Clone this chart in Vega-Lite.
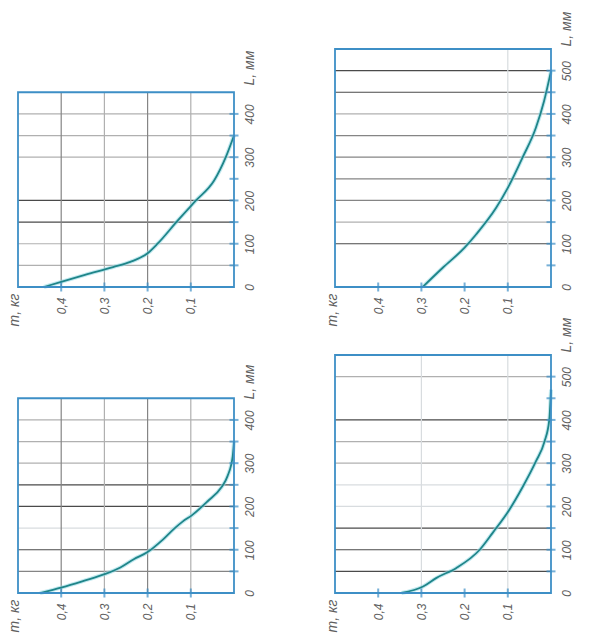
{
  "$schema": "https://vega.github.io/schema/vega-lite/v6.json",
  "background": "white",
  "padding": {"left": 7, "top": 11, "right": 4, "bottom": 4},
  "config": {
    "view": {"stroke": null},
    "font": "Liberation Sans",
    "axis": {
      "labelFont": "Liberation Sans",
      "labelFontStyle": "italic",
      "labelFontSize": 12,
      "labelColor": "#5e5e5e",
      "titleFont": "Liberation Sans",
      "titleFontStyle": "italic",
      "titleFontWeight": "normal",
      "titleFontSize": 14,
      "titleColor": "#5e5e5e",
      "domain": false,
      "grid": false,
      "ticks": false,
      "labelPadding": 10,
      "labelFlush": false,
      "labelOverlap": false,
      "labelBound": false
    },
    "tick": {"color": "#3d8fc6", "thickness": 2, "size": 9}
  },
  "datasets": {
    "curves": [
      {"panel": "a", "L": 0, "m": 0.44},
      {"panel": "a", "L": 12, "m": 0.40},
      {"panel": "a", "L": 28, "m": 0.345},
      {"panel": "a", "L": 46, "m": 0.28},
      {"panel": "a", "L": 58, "m": 0.24},
      {"panel": "a", "L": 78, "m": 0.20},
      {"panel": "a", "L": 100, "m": 0.177},
      {"panel": "a", "L": 154, "m": 0.13},
      {"panel": "a", "L": 200, "m": 0.088},
      {"panel": "a", "L": 246, "m": 0.046},
      {"panel": "a", "L": 300, "m": 0.019},
      {"panel": "a", "L": 350, "m": 0.0},
      {"panel": "b", "L": 0, "m": 0.297},
      {"panel": "b", "L": 45, "m": 0.25},
      {"panel": "b", "L": 91, "m": 0.2},
      {"panel": "b", "L": 122, "m": 0.173},
      {"panel": "b", "L": 183, "m": 0.127},
      {"panel": "b", "L": 229, "m": 0.1},
      {"panel": "b", "L": 299, "m": 0.066},
      {"panel": "b", "L": 368, "m": 0.035},
      {"panel": "b", "L": 430, "m": 0.016},
      {"panel": "b", "L": 499, "m": 0.0},
      {"panel": "c", "L": 0, "m": 0.449},
      {"panel": "c", "L": 13, "m": 0.398},
      {"panel": "c", "L": 28, "m": 0.348},
      {"panel": "c", "L": 44, "m": 0.298},
      {"panel": "c", "L": 59, "m": 0.263},
      {"panel": "c", "L": 78, "m": 0.232},
      {"panel": "c", "L": 94, "m": 0.201},
      {"panel": "c", "L": 124, "m": 0.164},
      {"panel": "c", "L": 150, "m": 0.137},
      {"panel": "c", "L": 165, "m": 0.119},
      {"panel": "c", "L": 180, "m": 0.097},
      {"panel": "c", "L": 212, "m": 0.061},
      {"panel": "c", "L": 243, "m": 0.03},
      {"panel": "c", "L": 270, "m": 0.015},
      {"panel": "c", "L": 316, "m": 0.003},
      {"panel": "c", "L": 350, "m": 0.0},
      {"panel": "d", "L": 0, "m": 0.346},
      {"panel": "d", "L": 15, "m": 0.296},
      {"panel": "d", "L": 35, "m": 0.265},
      {"panel": "d", "L": 58, "m": 0.219},
      {"panel": "d", "L": 100, "m": 0.165},
      {"panel": "d", "L": 139, "m": 0.135},
      {"panel": "d", "L": 193, "m": 0.096},
      {"panel": "d", "L": 246, "m": 0.065},
      {"panel": "d", "L": 304, "m": 0.035},
      {"panel": "d", "L": 350, "m": 0.015},
      {"panel": "d", "L": 400, "m": 0.004},
      {"panel": "d", "L": 470, "m": 0.0}
    ],
    "hgrid": [
      {"panel": "a", "L": 50, "tone": "light"},
      {"panel": "a", "L": 100, "tone": "light"},
      {"panel": "a", "L": 150, "tone": "dark"},
      {"panel": "a", "L": 200, "tone": "dark"},
      {"panel": "a", "L": 300, "tone": "light"},
      {"panel": "a", "L": 350, "tone": "light"},
      {"panel": "a", "L": 400, "tone": "light"},
      {"panel": "b", "L": 100, "tone": "dark"},
      {"panel": "b", "L": 150, "tone": "light"},
      {"panel": "b", "L": 200, "tone": "mid"},
      {"panel": "b", "L": 250, "tone": "mid"},
      {"panel": "b", "L": 300, "tone": "mid"},
      {"panel": "b", "L": 350, "tone": "mid"},
      {"panel": "b", "L": 400, "tone": "light"},
      {"panel": "b", "L": 450, "tone": "dark"},
      {"panel": "b", "L": 500, "tone": "dark"},
      {"panel": "c", "L": 50, "tone": "mid"},
      {"panel": "c", "L": 100, "tone": "dark"},
      {"panel": "c", "L": 150, "tone": "faint"},
      {"panel": "c", "L": 200, "tone": "dark"},
      {"panel": "c", "L": 250, "tone": "dark"},
      {"panel": "c", "L": 300, "tone": "light"},
      {"panel": "c", "L": 350, "tone": "light"},
      {"panel": "c", "L": 400, "tone": "light"},
      {"panel": "d", "L": 50, "tone": "dark"},
      {"panel": "d", "L": 100, "tone": "dark"},
      {"panel": "d", "L": 150, "tone": "dark"},
      {"panel": "d", "L": 200, "tone": "faint"},
      {"panel": "d", "L": 250, "tone": "faint"},
      {"panel": "d", "L": 300, "tone": "light"},
      {"panel": "d", "L": 350, "tone": "light"},
      {"panel": "d", "L": 400, "tone": "dark"},
      {"panel": "d", "L": 500, "tone": "light"}
    ],
    "vgrid": [
      {"panel": "a", "m": 0.4, "tone": "mid"},
      {"panel": "a", "m": 0.3, "tone": "light"},
      {"panel": "a", "m": 0.2, "tone": "mid"},
      {"panel": "a", "m": 0.1, "tone": "light"},
      {"panel": "b", "m": 0.1, "tone": "faint"},
      {"panel": "c", "m": 0.4, "tone": "mid"},
      {"panel": "c", "m": 0.3, "tone": "light"},
      {"panel": "c", "m": 0.2, "tone": "mid"},
      {"panel": "c", "m": 0.1, "tone": "light"},
      {"panel": "d", "m": 0.3, "tone": "faint"},
      {"panel": "d", "m": 0.1, "tone": "faint"}
    ],
    "mticks": [
      {"m": 0.1}, {"m": 0.2}, {"m": 0.3}, {"m": 0.4}
    ],
    "lticks": [
      {"span": "short", "L": 50}, {"span": "short", "L": 100}, {"span": "short", "L": 150},
      {"span": "short", "L": 200}, {"span": "short", "L": 250}, {"span": "short", "L": 300},
      {"span": "short", "L": 350}, {"span": "short", "L": 400},
      {"span": "long", "L": 50}, {"span": "long", "L": 100}, {"span": "long", "L": 150},
      {"span": "long", "L": 200}, {"span": "long", "L": 250}, {"span": "long", "L": 300},
      {"span": "long", "L": 350}, {"span": "long", "L": 400}, {"span": "long", "L": 450},
      {"span": "long", "L": 500}
    ]
  },
  "columns": 2,
  "bounds": "flush",
  "spacing": {"row": 68, "column": 101},
  "concat": [
    {
      "width": 216,
      "height": 238,
      "layer": [
        {
          "data": {"name": "hgrid"},
          "transform": [{"filter": "datum.panel === 'a'"}],
          "mark": {"type": "rule", "strokeWidth": 1.2},
          "encoding": {
            "y": {"field": "L", "type": "quantitative", "scale": {"domain": [0, 550], "nice": false},
              "axis": {"orient": "right", "values": [0, 100, 200, 300, 400],
                "labelAngle": 270, "labelAlign": "center", "labelBaseline": "top",
                "title": "L, мм", "titleAngle": 270, "titleAlign": "left", "titleBaseline": "top", "titleX": 8, "titleY": 36}},
            "x": {"datum": 0.5, "type": "quantitative", "scale": {"domain": [0, 0.5], "reverse": true, "nice": false},
              "axis": {"orient": "bottom", "values": [0.1, 0.2, 0.3, 0.4], "format": ".1f",
                "labelExpr": "replace(datum.label, '.', ',')",
                "labelAngle": 270, "labelAlign": "right", "labelBaseline": "middle",
                "title": "m, кг", "titleAngle": 270, "titleAlign": "right", "titleBaseline": "middle", "titleX": -4, "titleY": 6}},
            "x2": {"datum": 0},
            "color": {"field": "tone", "type": "nominal", "legend": null,
              "scale": {"domain": ["dark", "mid", "light", "faint"], "range": ["#4a4a4a", "#858585", "#b0b0b0", "#d8dcdf"]}}
          }
        },
        {
          "data": {"name": "vgrid"},
          "transform": [{"filter": "datum.panel === 'a'"}],
          "mark": {"type": "rule", "strokeWidth": 1.2},
          "encoding": {
            "x": {"field": "m", "type": "quantitative"},
            "y": {"datum": 0, "type": "quantitative"},
            "y2": {"datum": 450},
            "color": {"field": "tone", "type": "nominal", "legend": null}
          }
        },
        {
          "data": {"name": "curves"},
          "transform": [{"filter": "datum.panel === 'a'"}],
          "mark": {"type": "line", "color": "#9adbe6", "strokeWidth": 4, "opacity": 0.6, "interpolate": "monotone"},
          "encoding": {
            "x": {"field": "m", "type": "quantitative"},
            "y": {"field": "L", "type": "quantitative"},
            "order": {"field": "L"}
          }
        },
        {
          "data": {"name": "curves"},
          "transform": [{"filter": "datum.panel === 'a'"}],
          "mark": {"type": "line", "color": "#1f8589", "strokeWidth": 1.8, "interpolate": "monotone"},
          "encoding": {
            "x": {"field": "m", "type": "quantitative"},
            "y": {"field": "L", "type": "quantitative"},
            "order": {"field": "L"}
          }
        },
        {
          "data": {"values": [{}]},
          "mark": {"type": "rect", "fillOpacity": 0, "stroke": "#3d8fc6", "strokeWidth": 1.8},
          "encoding": {
            "x": {"datum": 0.5, "type": "quantitative"},
            "x2": {"datum": 0},
            "y": {"datum": 0, "type": "quantitative"},
            "y2": {"datum": 450}
          }
        },
        {
          "data": {"name": "mticks"},
          "mark": {"type": "tick", "orient": "vertical"},
          "encoding": {
            "x": {"field": "m", "type": "quantitative"},
            "y": {"datum": 0, "type": "quantitative"}
          }
        },
        {
          "data": {"name": "lticks"},
          "transform": [{"filter": "datum.span === 'short'"}],
          "mark": {"type": "tick", "orient": "horizontal"},
          "encoding": {
            "y": {"field": "L", "type": "quantitative"},
            "x": {"datum": 0, "type": "quantitative"}
          }
        }
      ]
    },
    {
      "width": 216,
      "height": 238,
      "layer": [
        {
          "data": {"name": "hgrid"},
          "transform": [{"filter": "datum.panel === 'b'"}],
          "mark": {"type": "rule", "strokeWidth": 1.2},
          "encoding": {
            "y": {"field": "L", "type": "quantitative", "scale": {"domain": [0, 550], "nice": false},
              "axis": {"orient": "right", "values": [0, 100, 200, 300, 400, 500],
                "labelAngle": 270, "labelAlign": "center", "labelBaseline": "top",
                "title": "L, мм", "titleAngle": 270, "titleAlign": "left", "titleBaseline": "top", "titleX": 8, "titleY": -3}},
            "x": {"datum": 0.5, "type": "quantitative", "scale": {"domain": [0, 0.5], "reverse": true, "nice": false},
              "axis": {"orient": "bottom", "values": [0.1, 0.2, 0.3, 0.4], "format": ".1f",
                "labelExpr": "replace(datum.label, '.', ',')",
                "labelAngle": 270, "labelAlign": "right", "labelBaseline": "middle",
                "title": "m, кг", "titleAngle": 270, "titleAlign": "right", "titleBaseline": "middle", "titleX": -3, "titleY": 6}},
            "x2": {"datum": 0},
            "color": {"field": "tone", "type": "nominal", "legend": null,
              "scale": {"domain": ["dark", "mid", "light", "faint"], "range": ["#4a4a4a", "#858585", "#b0b0b0", "#d8dcdf"]}}
          }
        },
        {
          "data": {"name": "vgrid"},
          "transform": [{"filter": "datum.panel === 'b'"}],
          "mark": {"type": "rule", "strokeWidth": 1.2},
          "encoding": {
            "x": {"field": "m", "type": "quantitative"},
            "y": {"datum": 0, "type": "quantitative"},
            "y2": {"datum": 550},
            "color": {"field": "tone", "type": "nominal", "legend": null}
          }
        },
        {
          "data": {"name": "curves"},
          "transform": [{"filter": "datum.panel === 'b'"}],
          "mark": {"type": "line", "color": "#9adbe6", "strokeWidth": 4, "opacity": 0.6, "interpolate": "monotone"},
          "encoding": {
            "x": {"field": "m", "type": "quantitative"},
            "y": {"field": "L", "type": "quantitative"},
            "order": {"field": "L"}
          }
        },
        {
          "data": {"name": "curves"},
          "transform": [{"filter": "datum.panel === 'b'"}],
          "mark": {"type": "line", "color": "#1f8589", "strokeWidth": 1.8, "interpolate": "monotone"},
          "encoding": {
            "x": {"field": "m", "type": "quantitative"},
            "y": {"field": "L", "type": "quantitative"},
            "order": {"field": "L"}
          }
        },
        {
          "data": {"values": [{}]},
          "mark": {"type": "rect", "fillOpacity": 0, "stroke": "#3d8fc6", "strokeWidth": 1.8},
          "encoding": {
            "x": {"datum": 0.5, "type": "quantitative"},
            "x2": {"datum": 0},
            "y": {"datum": 0, "type": "quantitative"},
            "y2": {"datum": 550}
          }
        },
        {
          "data": {"name": "mticks"},
          "mark": {"type": "tick", "orient": "vertical"},
          "encoding": {
            "x": {"field": "m", "type": "quantitative"},
            "y": {"datum": 0, "type": "quantitative"}
          }
        },
        {
          "data": {"name": "lticks"},
          "transform": [{"filter": "datum.span === 'long'"}],
          "mark": {"type": "tick", "orient": "horizontal"},
          "encoding": {
            "y": {"field": "L", "type": "quantitative"},
            "x": {"datum": 0, "type": "quantitative"}
          }
        }
      ]
    },
    {
      "width": 216,
      "height": 238,
      "layer": [
        {
          "data": {"name": "hgrid"},
          "transform": [{"filter": "datum.panel === 'c'"}],
          "mark": {"type": "rule", "strokeWidth": 1.2},
          "encoding": {
            "y": {"field": "L", "type": "quantitative", "scale": {"domain": [0, 550], "nice": false},
              "axis": {"orient": "right", "values": [0, 100, 200, 300, 400],
                "labelAngle": 270, "labelAlign": "center", "labelBaseline": "top",
                "title": "L, мм", "titleAngle": 270, "titleAlign": "left", "titleBaseline": "top", "titleX": 8, "titleY": 44}},
            "x": {"datum": 0.5, "type": "quantitative", "scale": {"domain": [0, 0.5], "reverse": true, "nice": false},
              "axis": {"orient": "bottom", "values": [0.1, 0.2, 0.3, 0.4], "format": ".1f",
                "labelExpr": "replace(datum.label, '.', ',')",
                "labelAngle": 270, "labelAlign": "right", "labelBaseline": "middle",
                "title": "m, кг", "titleAngle": 270, "titleAlign": "right", "titleBaseline": "middle", "titleX": -4, "titleY": 6}},
            "x2": {"datum": 0},
            "color": {"field": "tone", "type": "nominal", "legend": null,
              "scale": {"domain": ["dark", "mid", "light", "faint"], "range": ["#4a4a4a", "#858585", "#b0b0b0", "#d8dcdf"]}}
          }
        },
        {
          "data": {"name": "vgrid"},
          "transform": [{"filter": "datum.panel === 'c'"}],
          "mark": {"type": "rule", "strokeWidth": 1.2},
          "encoding": {
            "x": {"field": "m", "type": "quantitative"},
            "y": {"datum": 0, "type": "quantitative"},
            "y2": {"datum": 450},
            "color": {"field": "tone", "type": "nominal", "legend": null}
          }
        },
        {
          "data": {"name": "curves"},
          "transform": [{"filter": "datum.panel === 'c'"}],
          "mark": {"type": "line", "color": "#9adbe6", "strokeWidth": 4, "opacity": 0.6, "interpolate": "monotone"},
          "encoding": {
            "x": {"field": "m", "type": "quantitative"},
            "y": {"field": "L", "type": "quantitative"},
            "order": {"field": "L"}
          }
        },
        {
          "data": {"name": "curves"},
          "transform": [{"filter": "datum.panel === 'c'"}],
          "mark": {"type": "line", "color": "#1f8589", "strokeWidth": 1.8, "interpolate": "monotone"},
          "encoding": {
            "x": {"field": "m", "type": "quantitative"},
            "y": {"field": "L", "type": "quantitative"},
            "order": {"field": "L"}
          }
        },
        {
          "data": {"values": [{}]},
          "mark": {"type": "rect", "fillOpacity": 0, "stroke": "#3d8fc6", "strokeWidth": 1.8},
          "encoding": {
            "x": {"datum": 0.5, "type": "quantitative"},
            "x2": {"datum": 0},
            "y": {"datum": 0, "type": "quantitative"},
            "y2": {"datum": 450}
          }
        },
        {
          "data": {"name": "mticks"},
          "mark": {"type": "tick", "orient": "vertical"},
          "encoding": {
            "x": {"field": "m", "type": "quantitative"},
            "y": {"datum": 0, "type": "quantitative"}
          }
        },
        {
          "data": {"name": "lticks"},
          "transform": [{"filter": "datum.span === 'short'"}],
          "mark": {"type": "tick", "orient": "horizontal"},
          "encoding": {
            "y": {"field": "L", "type": "quantitative"},
            "x": {"datum": 0, "type": "quantitative"}
          }
        }
      ]
    },
    {
      "width": 216,
      "height": 238,
      "layer": [
        {
          "data": {"name": "hgrid"},
          "transform": [{"filter": "datum.panel === 'd'"}],
          "mark": {"type": "rule", "strokeWidth": 1.2},
          "encoding": {
            "y": {"field": "L", "type": "quantitative", "scale": {"domain": [0, 550], "nice": false},
              "axis": {"orient": "right", "values": [0, 100, 200, 300, 400, 500],
                "labelAngle": 270, "labelAlign": "center", "labelBaseline": "top",
                "title": "L, мм", "titleAngle": 270, "titleAlign": "left", "titleBaseline": "top", "titleX": 8, "titleY": -3}},
            "x": {"datum": 0.5, "type": "quantitative", "scale": {"domain": [0, 0.5], "reverse": true, "nice": false},
              "axis": {"orient": "bottom", "values": [0.1, 0.2, 0.3, 0.4], "format": ".1f",
                "labelExpr": "replace(datum.label, '.', ',')",
                "labelAngle": 270, "labelAlign": "right", "labelBaseline": "middle",
                "title": "m, кг", "titleAngle": 270, "titleAlign": "right", "titleBaseline": "middle", "titleX": -3, "titleY": 6}},
            "x2": {"datum": 0},
            "color": {"field": "tone", "type": "nominal", "legend": null,
              "scale": {"domain": ["dark", "mid", "light", "faint"], "range": ["#4a4a4a", "#858585", "#b0b0b0", "#d8dcdf"]}}
          }
        },
        {
          "data": {"name": "vgrid"},
          "transform": [{"filter": "datum.panel === 'd'"}],
          "mark": {"type": "rule", "strokeWidth": 1.2},
          "encoding": {
            "x": {"field": "m", "type": "quantitative"},
            "y": {"datum": 0, "type": "quantitative"},
            "y2": {"datum": 550},
            "color": {"field": "tone", "type": "nominal", "legend": null}
          }
        },
        {
          "data": {"name": "curves"},
          "transform": [{"filter": "datum.panel === 'd'"}],
          "mark": {"type": "line", "color": "#9adbe6", "strokeWidth": 4, "opacity": 0.6, "interpolate": "monotone"},
          "encoding": {
            "x": {"field": "m", "type": "quantitative"},
            "y": {"field": "L", "type": "quantitative"},
            "order": {"field": "L"}
          }
        },
        {
          "data": {"name": "curves"},
          "transform": [{"filter": "datum.panel === 'd'"}],
          "mark": {"type": "line", "color": "#1f8589", "strokeWidth": 1.8, "interpolate": "monotone"},
          "encoding": {
            "x": {"field": "m", "type": "quantitative"},
            "y": {"field": "L", "type": "quantitative"},
            "order": {"field": "L"}
          }
        },
        {
          "data": {"values": [{}]},
          "mark": {"type": "rect", "fillOpacity": 0, "stroke": "#3d8fc6", "strokeWidth": 1.8},
          "encoding": {
            "x": {"datum": 0.5, "type": "quantitative"},
            "x2": {"datum": 0},
            "y": {"datum": 0, "type": "quantitative"},
            "y2": {"datum": 550}
          }
        },
        {
          "data": {"name": "mticks"},
          "mark": {"type": "tick", "orient": "vertical"},
          "encoding": {
            "x": {"field": "m", "type": "quantitative"},
            "y": {"datum": 0, "type": "quantitative"}
          }
        },
        {
          "data": {"name": "lticks"},
          "transform": [{"filter": "datum.span === 'long'"}],
          "mark": {"type": "tick", "orient": "horizontal"},
          "encoding": {
            "y": {"field": "L", "type": "quantitative"},
            "x": {"datum": 0, "type": "quantitative"}
          }
        }
      ]
    }
  ]
}
